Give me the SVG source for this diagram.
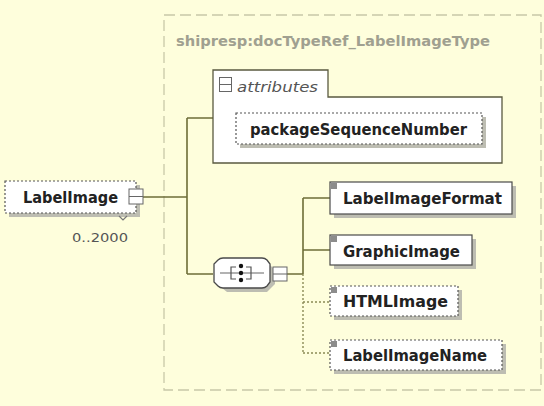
<svg xmlns="http://www.w3.org/2000/svg" width="544" height="406" viewBox="0 0 544 406">
<defs>
<style>
.lbl{font-family:"DejaVu Sans",sans-serif;font-weight:bold;font-size:16px;fill:#222}
.box{fill:#fff;stroke:#4a4a4a;stroke-width:1.2}
.opt{fill:#fff;stroke:#555;stroke-width:1.2;stroke-dasharray:2 2}
.shd{fill:#bdbdb2}
.con{fill:none;stroke:#6e6e38;stroke-width:1.6}
.dot{fill:none;stroke:#8a8a55;stroke-width:1.4;stroke-dasharray:2 2}
.ico{fill:#fff;stroke:#666;stroke-width:1}
.mk{fill:#8c8c8c}
</style>
</defs>
<rect x="0" y="0" width="544" height="406" fill="#FEFEDC"/>
<g id="type-frame">
<rect x="164" y="15" width="377" height="375" fill="none" stroke="#c8c8a8" stroke-width="1.3" stroke-dasharray="11 5"/>
<text x="176" y="46" font-family="DejaVu Sans,sans-serif" font-weight="bold" font-size="14" fill="#a0a090" textLength="314" lengthAdjust="spacingAndGlyphs">shipresp:docTypeRef_LabelImageType</text>
</g>
<g id="connectors">
<path class="con" d="M143 197 H187 M187 118 V274 M187 118 H213 M187 274 H213 M287 274 H303 M303 198 V274 M303 198 H330 M303 250 H330"/>
<path class="dot" d="M303 274 V353 M303 302 H330 M303 353 H330"/>
</g>
<g id="LabelImage">
<rect class="shd" x="9" y="185" width="131" height="32"/>
<rect class="opt" x="5" y="181" width="131" height="32"/>
<text class="lbl" x="23" y="203" textLength="95" lengthAdjust="spacingAndGlyphs">LabelImage</text>
<rect class="ico" x="129" y="189" width="14" height="15"/>
<path d="M129 196.5 H143" stroke="#666" stroke-width="1"/>
<path d="M119 216 L123 220 L127 216" fill="none" stroke="#777" stroke-width="1.2"/>
<text x="72" y="242" font-family="DejaVu Sans,sans-serif" font-size="13" fill="#555" textLength="56" lengthAdjust="spacingAndGlyphs">0..2000</text>
</g>
<g id="attributes">
<path d="M213 70 H328 V97 H502 V163 H213 Z" fill="#fff" stroke="#5a5a40" stroke-width="1.3"/>
<rect class="ico" x="219.5" y="77.5" width="12" height="14"/>
<path d="M219.5 84.5 H231.5" stroke="#666" stroke-width="1"/>
<text x="237" y="92" font-family="DejaVu Sans,sans-serif" font-style="italic" font-size="14" fill="#555" textLength="81" lengthAdjust="spacingAndGlyphs">attributes</text>
</g>
<g id="packageSequenceNumber">
<rect class="shd" x="240" y="117" width="246" height="31"/>
<rect class="opt" x="236" y="113" width="246" height="31"/>
<text class="lbl" x="250" y="135" textLength="217" lengthAdjust="spacingAndGlyphs">packageSequenceNumber</text>
</g>
<g id="sequence">
<path d="M227 262 H267 L275 270 V284 L267 292 H227 L217 284 V270 Z" fill="#bdbdb2"/>
<path d="M223 258 H262 Q265 258 267 260 L270 264 V282 L267 286 Q265 288 262 288 H223 Q220 288 218 286 L214 282 V264 L218 260 Q220 258 223 258 Z" fill="#fff" stroke="#4a4a4a" stroke-width="1.3"/>
<path d="M220 273 H264" stroke="#666" stroke-width="1.2"/>
<path d="M236 267 H231 V279 H236 M246 267 H251 V279 H246" fill="none" stroke="#555" stroke-width="1.2"/>
<circle cx="241" cy="266" r="2.2" fill="#111"/>
<circle cx="241" cy="273" r="2.2" fill="#111"/>
<circle cx="241" cy="280" r="2.2" fill="#111"/>
<rect class="ico" x="273" y="267" width="14" height="14"/>
<path d="M273 274 H287" stroke="#666" stroke-width="1"/>
</g>
<g id="LabelImageFormat">
<rect class="shd" x="334" y="186" width="182" height="32"/>
<rect class="box" x="330" y="182" width="182" height="32"/>
<rect class="mk" x="331" y="183" width="6" height="6"/>
<text class="lbl" x="343" y="204" textLength="159" lengthAdjust="spacingAndGlyphs">LabelImageFormat</text>
</g>
<g id="GraphicImage">
<rect class="shd" x="334" y="239" width="142" height="30"/>
<rect class="box" x="330" y="235" width="142" height="30"/>
<rect class="mk" x="331" y="236" width="6" height="6"/>
<text class="lbl" x="343" y="257" textLength="117" lengthAdjust="spacingAndGlyphs">GraphicImage</text>
</g>
<g id="HTMLImage">
<rect class="shd" x="334" y="290" width="128" height="30"/>
<rect class="opt" x="330" y="286" width="128" height="30"/>
<rect class="mk" x="331" y="287" width="6" height="6"/>
<text class="lbl" x="343" y="307" textLength="105" lengthAdjust="spacingAndGlyphs">HTMLImage</text>
</g>
<g id="LabelImageName">
<rect class="shd" x="334" y="344" width="172" height="30"/>
<rect class="opt" x="330" y="340" width="172" height="30"/>
<rect class="mk" x="331" y="341" width="6" height="6"/>
<text class="lbl" x="343" y="361" textLength="144" lengthAdjust="spacingAndGlyphs">LabelImageName</text>
</g>
</svg>
